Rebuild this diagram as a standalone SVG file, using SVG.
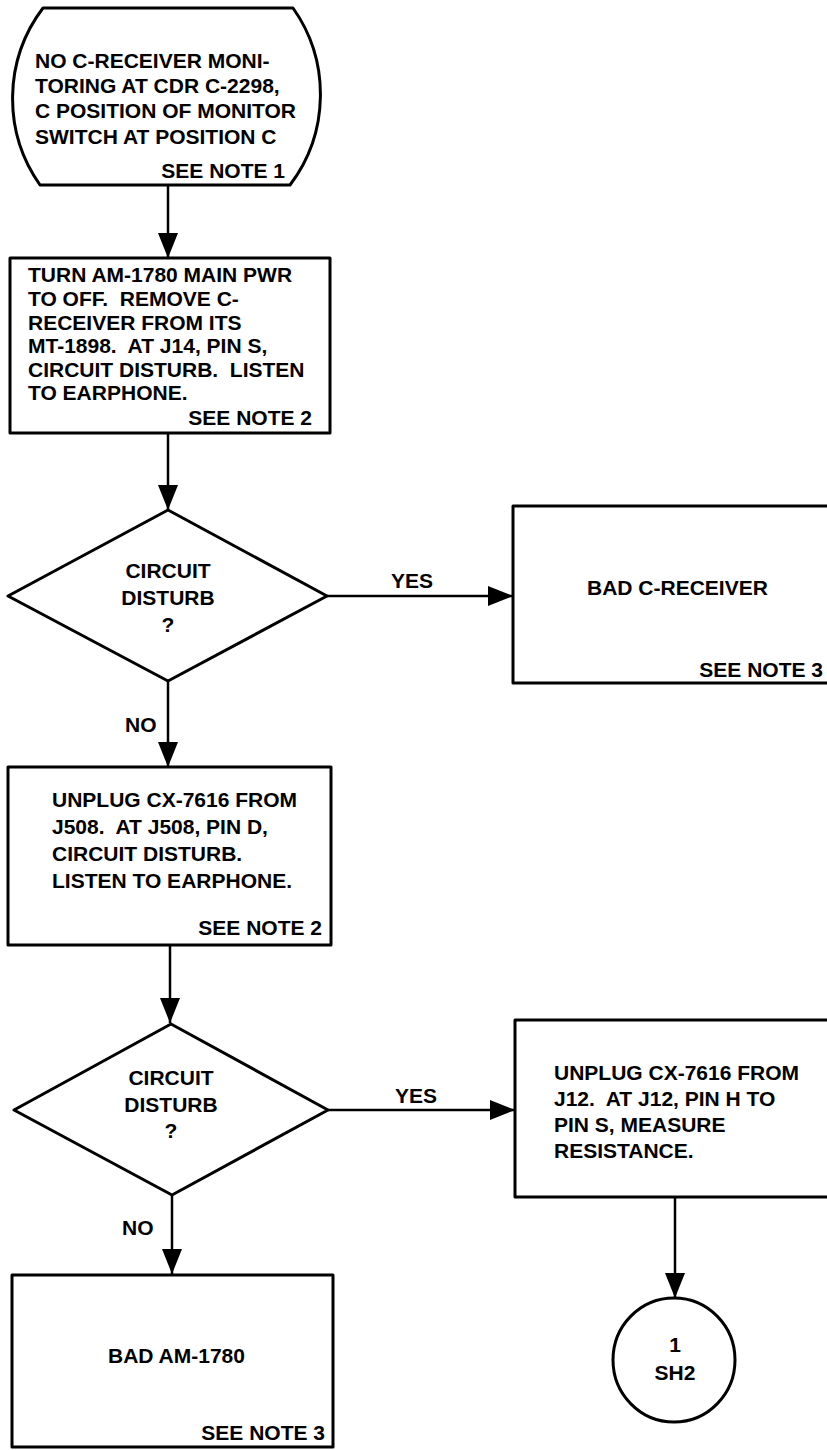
<svg xmlns="http://www.w3.org/2000/svg" width="827" height="1450" viewBox="0 0 827 1450">
<style>
.s{fill:none;stroke:#000;stroke-width:3;stroke-linejoin:round}
.c{fill:none;stroke:#000;stroke-width:2.5}
.t{font-family:"Liberation Sans",Arial,sans-serif;font-weight:bold;font-size:21px;fill:#000;white-space:pre}
.m{text-anchor:middle}
.e{text-anchor:end}
</style>
<defs>
<marker id="ah" markerWidth="26" markerHeight="20" refX="25" refY="10" orient="auto" markerUnits="userSpaceOnUse">
<path d="M0,0 L25,10 L0,20 Z" fill="#000"/>
</marker>
</defs>
<rect width="827" height="1450" fill="#fff"/>
<g id="connectors">
<line class="c" x1="168" y1="185" x2="168" y2="258" marker-end="url(#ah)"/>
<line class="c" x1="168" y1="433" x2="168" y2="510" marker-end="url(#ah)"/>
<line class="c" x1="327" y1="596" x2="513" y2="596" marker-end="url(#ah)"/>
<line class="c" x1="168" y1="681" x2="168" y2="767" marker-end="url(#ah)"/>
<line class="c" x1="170" y1="945" x2="170" y2="1023" marker-end="url(#ah)"/>
<line class="c" x1="328" y1="1110" x2="515" y2="1110" marker-end="url(#ah)"/>
<line class="c" x1="172" y1="1195" x2="172" y2="1274" marker-end="url(#ah)"/>
<line class="c" x1="675" y1="1197" x2="675" y2="1298" marker-end="url(#ah)"/>
<text class="t e" x="433" y="588">YES</text>
<text class="t" x="125" y="732">NO</text>
<text class="t e" x="437" y="1103">YES</text>
<text class="t" x="122" y="1235">NO</text>
</g>
<g id="start">
<path class="s" d="M43,8 L293,8 A150,150 0 0 1 290,185 L40,185 A150,150 0 0 1 43,8 Z"/>
<text class="t" x="35" y="68">NO C-RECEIVER MONI-</text>
<text class="t" x="35" y="93">TORING AT CDR C-2298,</text>
<text class="t" x="35" y="118">C POSITION OF MONITOR</text>
<text class="t" x="35" y="144">SWITCH AT POSITION C</text>
<text class="t e" x="285" y="178">SEE NOTE 1</text>
</g>
<g id="step1">
<rect class="s" x="10" y="258" width="320" height="175"/>
<text class="t" x="28" y="282">TURN AM-1780 MAIN PWR</text>
<text class="t" x="28" y="306" xml:space="preserve">TO OFF.  REMOVE C-</text>
<text class="t" x="28" y="330">RECEIVER FROM ITS</text>
<text class="t" x="28" y="353" xml:space="preserve">MT-1898.  AT J14, PIN S,</text>
<text class="t" x="28" y="377" xml:space="preserve">CIRCUIT DISTURB.  LISTEN</text>
<text class="t" x="28" y="400">TO EARPHONE.</text>
<text class="t e" x="312" y="425">SEE NOTE 2</text>
</g>
<g id="decision1">
<path class="s" d="M168,510 L327,596 L168,681 L8,596 Z"/>
<text class="t m" x="168" y="578">CIRCUIT</text>
<text class="t m" x="168" y="605">DISTURB</text>
<text class="t m" x="168" y="632">?</text>
</g>
<g id="badcreceiver">
<rect class="s" x="513" y="506" width="320" height="177"/>
<text class="t" x="587" y="595">BAD C-RECEIVER</text>
<text class="t e" x="823" y="677">SEE NOTE 3</text>
</g>
<g id="step2">
<rect class="s" x="8" y="767" width="323" height="178"/>
<text class="t" x="52" y="807">UNPLUG CX-7616 FROM</text>
<text class="t" x="52" y="834" xml:space="preserve">J508.  AT J508, PIN D,</text>
<text class="t" x="52" y="861">CIRCUIT DISTURB.</text>
<text class="t" x="52" y="888">LISTEN TO EARPHONE.</text>
<text class="t e" x="322" y="935">SEE NOTE 2</text>
</g>
<g id="decision2">
<path class="s" d="M171,1024 L328,1110 L172,1195 L14,1110 Z"/>
<text class="t m" x="171" y="1085">CIRCUIT</text>
<text class="t m" x="171" y="1112">DISTURB</text>
<text class="t m" x="171" y="1138">?</text>
</g>
<g id="step3">
<rect class="s" x="515" y="1020" width="320" height="177"/>
<text class="t" x="554" y="1080">UNPLUG CX-7616 FROM</text>
<text class="t" x="554" y="1106" xml:space="preserve">J12.  AT J12, PIN H TO</text>
<text class="t" x="554" y="1132">PIN S, MEASURE</text>
<text class="t" x="554" y="1158">RESISTANCE.</text>
</g>
<g id="badam1780">
<rect class="s" x="12" y="1275" width="321" height="172"/>
<text class="t" x="108" y="1363">BAD AM-1780</text>
<text class="t e" x="325" y="1440">SEE NOTE 3</text>
</g>
<g id="offpage">
<ellipse class="s" cx="674" cy="1360" rx="61" ry="62"/>
<text class="t m" x="675" y="1352">1</text>
<text class="t m" x="675" y="1380">SH2</text>
</g>
</svg>
